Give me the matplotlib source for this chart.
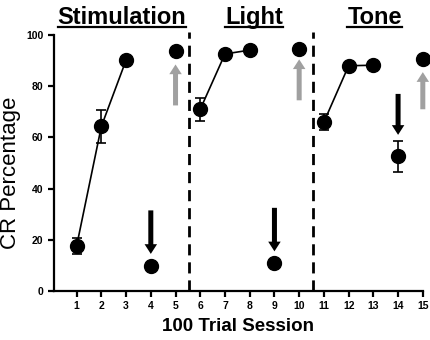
import matplotlib
matplotlib.use("Agg")
import matplotlib.pyplot as plt
from matplotlib.lines import Line2D

plt.rcParams['font.family'] = ['Liberation Sans', 'DejaVu Sans']

# session data: (x, CR %, error)
segments = [
    ([1, 2, 3], [17.6, 64.3, 90.2], [3.0, 6.3, 0]),
    ([6, 7, 8], [71.0, 92.6, 94.1], [4.5, 0, 0]),
    ([11, 12, 13], [66.0, 88.0, 88.2], [3.0, 0, 0]),
]
single_x = [4, 5, 9, 10, 14, 15]
single_y = [9.8, 93.8, 11.1, 94.4, 52.6, 90.8]
single_err = [0, 0, 0, 0, 6.0, 0]

# arrows: x, tail y, tip y
down_x = [4, 9, 14]
down_tail = [31.5, 32.5, 77.0]
down_tip = [14.5, 15.5, 61.0]
up_x = [5, 10, 15]
up_tail = [72.5, 74.5, 71.0]
up_tip = [88.5, 90.5, 85.5]

dividers = [5.55, 10.55]
section_titles = ["Stimulation", "Light", "Tone"]
title_x = [2.84, 8.17, 13.05]

fig = plt.figure(figsize=(4.31, 3.4), dpi=100)
ax = fig.add_axes([0.125, 0.144, 0.856, 0.753])

for xs, ys, es in segments:
    ax.plot(xs, ys, color='black', linewidth=1.2, zorder=2)
    ax.errorbar(xs, ys, yerr=es, fmt='o', color='black', markersize=10,
                ecolor='black', elinewidth=1.2, capsize=3.5, capthick=1.2, zorder=3)
eb = ax.errorbar(single_x, single_y, yerr=single_err, fmt='o', color='black', markersize=10,
                 ecolor='black', elinewidth=1.2, capsize=3.5, capthick=1.2, zorder=3)
eb[0].set_clip_on(False)

for x, t0, t1 in zip(down_x, down_tail, down_tip):
    ax.annotate('', xy=(x, t1), xytext=(x, t0),
                arrowprops=dict(facecolor='black', edgecolor='none', width=3.6,
                                headwidth=9, headlength=7, shrink=0))
for x, t0, t1 in zip(up_x, up_tail, up_tip):
    ax.annotate('', xy=(x, t1), xytext=(x, t0),
                arrowprops=dict(facecolor='#a0a0a0', edgecolor='none', width=3.6,
                                headwidth=9, headlength=7, shrink=0))

for d in dividers:
    ax.plot([d, d], [0, 101], color='black', linewidth=2, linestyle=(0, (4, 2.5)),
            clip_on=False, zorder=1)

ax.set_xlim(0.08, 15.0)
ax.set_ylim(0, 100)
ax.set_xticks(range(1, 16))
ax.set_yticks([0, 20, 40, 60, 80, 100])
ax.spines['top'].set_visible(False)
ax.spines['right'].set_visible(False)
ax.spines['left'].set_linewidth(1.6)
ax.spines['bottom'].set_linewidth(1.6)
ax.tick_params(width=1.6, length=4, labelsize=7.5)
for lab in ax.get_xticklabels() + ax.get_yticklabels():
    lab.set_fontweight('bold')

ax.set_xlabel("100 Trial Session", fontsize=13.5, fontweight='bold', labelpad=5)
ax.set_ylabel("CR Percentage", fontsize=16)
ax.yaxis.set_label_coords(-0.088, 0.46)

texts = []
for name, tx in zip(section_titles, title_x):
    t = ax.text(tx, 1.025, name, transform=ax.get_xaxis_transform(), ha='center',
                va='bottom', fontsize=17, fontweight='bold')
    texts.append(t)

# underline the section titles
fig.canvas.draw()
r = fig.canvas.get_renderer()
for t in texts:
    bb = t.get_window_extent(r).transformed(fig.transFigure.inverted())
    fig.add_artist(Line2D([bb.x0, bb.x1], [bb.y0 + 0.004, bb.y0 + 0.004],
                          transform=fig.transFigure, color='black', linewidth=1.6))

fig.savefig("out.png", dpi=100)
